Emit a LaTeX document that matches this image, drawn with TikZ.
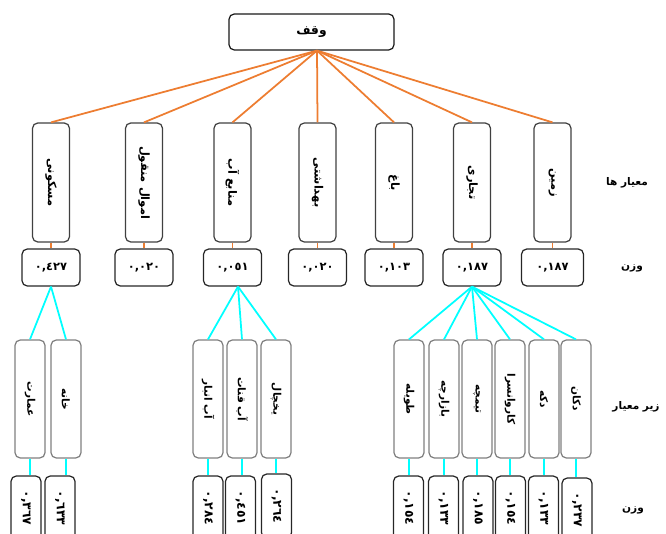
\documentclass[tikz,border=0pt]{standalone}
\usepackage{fontspec}
\usepackage{graphicx}
\newfontfamily\farsi[Script=Arabic]{DejaVu Sans}
\TeXXeTstate=1

\definecolor{waqforange}{HTML}{ED7D31}
\definecolor{waqfcyan}{HTML}{00FFFF}
\definecolor{boxgray}{HTML}{7F7F7F}
\definecolor{boxdark}{HTML}{404040}

\newcommand{\fa}[1]{{\farsi\bfseries\beginR #1\endR}}
\newcommand{\vfa}[1]{\rotatebox{-90}{\fa{#1}}}
\newcommand{\num}[1]{{\farsi\bfseries #1}}
\newcommand{\vnum}[1]{\rotatebox{-90}{\num{#1}}}

\tikzset{
	goalbox/.style={draw=black!90, line width=0.7pt, rounded corners=3pt, minimum width=3.30cm, minimum height=0.72cm, inner sep=0pt, font=\fontsize{7}{8}\selectfont},
	critbox/.style={draw=boxdark, line width=0.7pt, rounded corners=3pt, minimum width=0.74cm, minimum height=2.38cm, inner sep=0pt, font=\fontsize{6.5}{8}\selectfont},
	weightbox/.style={draw=black!85, line width=0.7pt, rounded corners=3pt, minimum width=1.16cm, minimum height=0.74cm, inner sep=0pt, font=\fontsize{6.5}{8}\selectfont},
	subbox/.style={draw=boxgray, line width=0.7pt, rounded corners=3pt, minimum width=0.60cm, minimum height=2.36cm, inner sep=0pt, font=\fontsize{6}{7}\selectfont},
	subweight/.style={draw=black!85, line width=0.7pt, rounded corners=3pt, minimum width=0.60cm, minimum height=1.28cm, inner sep=0pt, font=\fontsize{7}{8}\selectfont},
	rowlabel/.style={font=\fontsize{6}{7}\selectfont},
	orangelink/.style={draw=waqforange, line width=1pt},
	cyanlink/.style={draw=waqfcyan, line width=1pt},
}

\begin{document}
\begin{tikzpicture}
	\clip (0.00,0.00) rectangle (13.32,10.66);
	% goal
	\node[goalbox] (waqf) at (6.23,10.02) {\fa{وقف}};
	\coordinate (hub) at ([xshift=0.11cm]waqf.south);
	% criteria
	\node[critbox] (maskuni) at (1.02,7.01) {\vfa{مسکونی}};
	\node[critbox] (amval) at (2.88,7.01) {\vfa{اموال منقول}};
	\node[critbox] (manabe) at (4.65,7.01) {\vfa{منابع آب}};
	\node[critbox] (behdashti) at (6.35,7.01) {\vfa{بهداشتی}};
	\node[critbox] (bagh) at (7.88,7.01) {\vfa{باغ}};
	\node[critbox] (tejari) at (9.44,7.01) {\vfa{تجاری}};
	\node[critbox] (zamin) at (11.05,7.01) {\vfa{زمین}};
	\draw[orangelink] (hub) -- (maskuni.north);
	\draw[orangelink] (hub) -- (amval.north);
	\draw[orangelink] (hub) -- (manabe.north);
	\draw[orangelink] (hub) -- (behdashti.north);
	\draw[orangelink] (hub) -- (bagh.north);
	\draw[orangelink] (hub) -- (tejari.north);
	\draw[orangelink] (hub) -- (zamin.north);
	% weights of the criteria
	\node[weightbox] (wmaskuni) at (1.02,5.31) {\num{٠,٤٢٧}};
	\node[weightbox] (wamval) at (2.88,5.31) {\num{٠,٠٢٠}};
	\node[weightbox] (wmanabe) at (4.65,5.31) {\num{٠,٠٥١}};
	\node[weightbox] (wbehdashti) at (6.35,5.31) {\num{٠,٠٢٠}};
	\node[weightbox] (wbagh) at (7.88,5.31) {\num{٠,١٠٣}};
	\node[weightbox] (wtejari) at (9.44,5.31) {\num{٠,١٨٧}};
	\node[weightbox, minimum width=1.24cm] (wzamin) at (11.05,5.31) {\num{٠,١٨٧}};
	\draw[orangelink] (maskuni.south) -- (wmaskuni.north);
	\draw[orangelink] (amval.south) -- (wamval.north);
	\draw[orangelink] (manabe.south) -- (wmanabe.north);
	\draw[orangelink] (behdashti.south) -- (wbehdashti.north);
	\draw[orangelink] (bagh.south) -- (wbagh.north);
	\draw[orangelink] (tejari.south) -- (wtejari.north);
	\draw[orangelink] (zamin.south) -- (wzamin.north);
	% sub-criteria
	\node[subbox] (emarat) at (0.60,2.68) {\vfa{عمارت}};
	\node[subbox] (khane) at (1.32,2.68) {\vfa{خانه}};
	\node[subbox] (abanbar) at (4.16,2.68) {\vfa{آب انبار}};
	\node[subbox] (qanat) at (4.84,2.68) {\vfa{آب قنات}};
	\node[subbox] (yakhchal) at (5.52,2.68) {\vfa{یخچال}};
	\node[subbox] (tavile) at (8.18,2.68) {\vfa{طویله}};
	\node[subbox] (bazarche) at (8.88,2.68) {\vfa{بازارچه}};
	\node[subbox] (timche) at (9.54,2.68) {\vfa{تیمچه}};
	\node[subbox] (karvansara) at (10.20,2.68) {\vfa{کاروانسرا}};
	\node[subbox] (dakke) at (10.88,2.68) {\vfa{دکه}};
	\node[subbox] (dokkan) at (11.52,2.68) {\vfa{دکان}};
	\coordinate (hubmanabe) at ([xshift=0.11cm]wmanabe.south);
	\draw[cyanlink] (wmaskuni.south) -- (emarat.north);
	\draw[cyanlink] (wmaskuni.south) -- (khane.north);
	\draw[cyanlink] (hubmanabe) -- (abanbar.north);
	\draw[cyanlink] (hubmanabe) -- (qanat.north);
	\draw[cyanlink] (hubmanabe) -- (yakhchal.north);
	\draw[cyanlink] (wtejari.south) -- (tavile.north);
	\draw[cyanlink] (wtejari.south) -- (bazarche.north);
	\draw[cyanlink] (wtejari.south) -- (timche.north);
	\draw[cyanlink] (wtejari.south) -- (karvansara.north);
	\draw[cyanlink] (wtejari.south) -- (dakke.north);
	\draw[cyanlink] (wtejari.south) -- (dokkan.north);
	% weights of the sub-criteria
	\node[subweight] (wemarat) at (0.52,0.50) {\vnum{٠,٣٦٧}};
	\node[subweight] (wkhane) at (1.20,0.50) {\vnum{٠,٦٣٣}};
	\node[subweight] (wabanbar) at (4.16,0.50) {\vnum{٠,٢٨٤}};
	\node[subweight] (wqanat) at (4.81,0.50) {\vnum{٠,٤٥١}};
	\node[subweight] (wyakhchal) at (5.53,0.54) {\vnum{٠,٢٦٤}};
	\node[subweight] (wtavile) at (8.17,0.50) {\vnum{٠,١٥٤}};
	\node[subweight] (wbazarche) at (8.87,0.50) {\vnum{٠,١٣٣}};
	\node[subweight] (wtimche) at (9.56,0.50) {\vnum{٠,١٨٥}};
	\node[subweight] (wkarvansara) at (10.21,0.50) {\vnum{٠,١٥٤}};
	\node[subweight] (wdakke) at (10.87,0.50) {\vnum{٠,١٣٣}};
	\node[subweight] (wdokkan) at (11.54,0.46) {\vnum{٠,٢٣٧}};
	\draw[cyanlink] (emarat.south) -- (emarat.south |- wemarat.north);
	\draw[cyanlink] (khane.south) -- (khane.south |- wkhane.north);
	\draw[cyanlink] (abanbar.south) -- (abanbar.south |- wabanbar.north);
	\draw[cyanlink] (qanat.south) -- (qanat.south |- wqanat.north);
	\draw[cyanlink] (yakhchal.south) -- (yakhchal.south |- wyakhchal.north);
	\draw[cyanlink] (tavile.south) -- (tavile.south |- wtavile.north);
	\draw[cyanlink] (bazarche.south) -- (bazarche.south |- wbazarche.north);
	\draw[cyanlink] (timche.south) -- (timche.south |- wtimche.north);
	\draw[cyanlink] (karvansara.south) -- (karvansara.south |- wkarvansara.north);
	\draw[cyanlink] (dakke.south) -- (dakke.south |- wdakke.north);
	\draw[cyanlink] (dokkan.south) -- (dokkan.south |- wdokkan.north);
	% row labels
	\node[rowlabel] (lcrit) at (12.54,7.00) {\fa{معیار ها}};
	\node[rowlabel] (lweight) at (12.64,5.30) {\fa{وزن}};
	\node[rowlabel] (lsub) at (12.72,2.52) {\fa{زیر معیار}};
	\node[rowlabel] (lsubweight) at (12.66,0.46) {\fa{وزن}};
\end{tikzpicture}
\end{document}
